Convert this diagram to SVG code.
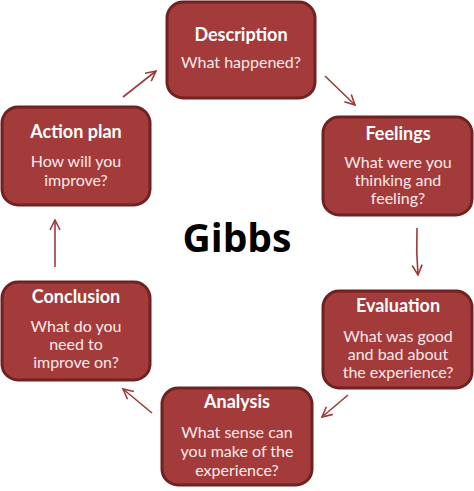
<svg xmlns="http://www.w3.org/2000/svg" width="474" height="491" viewBox="0 0 474 491">
<defs>
<style>
.box{fill:#a33b3b;stroke:#6e2222;stroke-width:3}
.t{font-family:Lato,"Liberation Sans",sans-serif;font-weight:700;font-size:18px;fill:#ffffff;text-anchor:middle}
.s{font-family:Lato,"Liberation Sans",sans-serif;font-size:16px;fill:#fbe9e9;text-anchor:middle}
.c{stroke:#9e3a3a;stroke-width:1.6;fill:none;marker-end:url(#ah)}
</style>
<marker id="ah" viewBox="0 0 12 12" refX="11" refY="6" markerWidth="12" markerHeight="12" markerUnits="userSpaceOnUse" orient="auto">
<path d="M1,1 L11,6 L1,11" fill="none" stroke="#9e3a3a" stroke-width="1.6"/>
</marker>
</defs>
<rect width="474" height="491" fill="#ffffff"/>
<g id="connectors">
<path class="c" d="M123,97 L156,71"/>
<path class="c" d="M325,76 L355,105"/>
<path class="c" d="M417,228 Q416,252 418,275"/>
<path class="c" d="M348,395 L322,417"/>
<path class="c" d="M152,413 L123,389"/>
<path class="c" d="M55,267 L55,220"/>
</g>
<g id="description">
<rect class="box" x="167" y="2" width="148" height="96" rx="16"/>
<text class="t" x="241" y="41">Description</text>
<text class="s" x="241" y="68">What happened?</text>
</g>
<g id="feelings">
<rect class="box" x="323" y="117" width="149" height="98" rx="16"/>
<text class="t" x="398" y="140">Feelings</text>
<text class="s" x="398" y="168">What were you</text>
<text class="s" x="398" y="186">thinking and</text>
<text class="s" x="398" y="204">feeling?</text>
</g>
<g id="evaluation">
<rect class="box" x="323" y="291" width="149" height="97" rx="16"/>
<text class="t" x="398" y="312">Evaluation</text>
<text class="s" x="398" y="342">What was good</text>
<text class="s" x="398" y="360">and bad about</text>
<text class="s" x="398" y="378">the experience?</text>
</g>
<g id="analysis">
<rect class="box" x="162" y="388" width="150" height="97" rx="16"/>
<text class="t" x="237" y="408">Analysis</text>
<text class="s" x="237" y="438">What sense can</text>
<text class="s" x="237" y="457">you make of the</text>
<text class="s" x="237" y="476">experience?</text>
</g>
<g id="conclusion">
<rect class="box" x="2" y="282" width="148" height="98" rx="16"/>
<text class="t" x="76" y="303">Conclusion</text>
<text class="s" x="76" y="332">What do you</text>
<text class="s" x="76" y="350">need to</text>
<text class="s" x="76" y="368">improve on?</text>
</g>
<g id="action-plan">
<rect class="box" x="2" y="107" width="148" height="98" rx="16"/>
<text class="t" x="76" y="138">Action plan</text>
<text class="s" x="76" y="167">How will you</text>
<text class="s" x="76" y="186">improve?</text>
</g>
<g id="center">
<text x="237" y="252" font-family="'Open Sans','Liberation Sans',sans-serif" font-weight="700" font-size="39" fill="#000000" text-anchor="middle">Gibbs</text>
</g>
</svg>
